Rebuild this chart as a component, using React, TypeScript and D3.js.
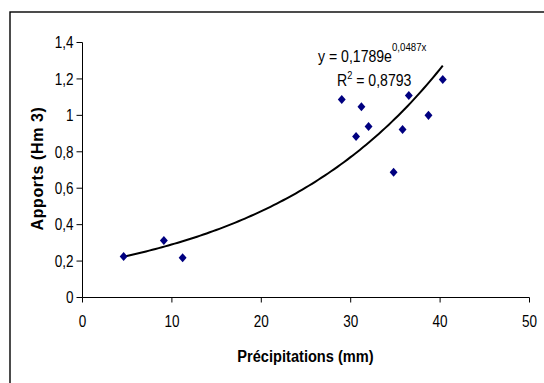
import React from "react";
import * as d3 from "d3";

const precip = [4.6, 9.1, 11.2, 29.0, 30.6, 31.2, 32.0, 34.8, 35.8, 36.5, 38.7, 40.3];
const apports = [0.225, 0.313, 0.218, 1.087, 0.884, 1.047, 0.939, 0.688, 0.922, 1.109, 1.0, 1.197];
const xTicks = [0, 10, 20, 30, 40, 50];
const yTicks = [0, 0.2, 0.4, 0.6, 0.8, 1, 1.2, 1.4];
const fitA = 0.1789;
const fitB = 0.0487;

const W = 544;
const H = 383;
const SANS = "'Liberation Sans', Arial, sans-serif";

function NText(props: {
  x: number;
  y: number;
  sx: number;
  anchor?: string;
  size: number;
  bold?: boolean;
  children: React.ReactNode;
}) {
  return (
    <text
      transform={`translate(${props.x},${props.y}) scale(${props.sx},1)`}
      textAnchor={props.anchor ?? "start"}
      fontFamily={SANS}
      fontSize={props.size}
      fontWeight={props.bold ? "bold" : "normal"}
      fill="#000"
    >
      {props.children}
    </text>
  );
}

export default function App() {
  const x = d3.scaleLinear().domain([0, 50]).range([82.5, 529.5]);
  const y = d3.scaleLinear().domain([0, 1.4]).range([297.5, 42.5]);
  const fmt = (v: number) => String(v).replace(".", ",");

  const xmin = d3.min(precip)!;
  const xmax = d3.max(precip)!;
  const curvePts = d3.range(0, 101).map((i) => {
    const xv = xmin + ((xmax - xmin) * i) / 100;
    return [xv, fitA * Math.exp(fitB * xv)] as [number, number];
  });
  const line = d3
    .line<[number, number]>()
    .x((d) => x(d[0]))
    .y((d) => y(d[1]));
  const diamond = d3.symbol().type(d3.symbolDiamond).size(24)();

  return (
    <svg
      width={W}
      height={H}
      style={{ position: "absolute", left: 0, top: 0, display: "block" }}
    >
      <rect x={0} y={0} width={W} height={H} fill="#fff" />
      <rect x={10} y={12} width={W + 20} height={H + 20} fill="none" stroke="#000" strokeWidth={1.4} />
      {/* axes */}
      <line x1={x(0)} x2={x(0)} y1={y(1.4)} y2={y(0)} stroke="#000" strokeWidth={1} />
      <line x1={x(0)} x2={x(50)} y1={y(0)} y2={y(0)} stroke="#000" strokeWidth={1} />
      {yTicks.map((t) => (
        <g key={"y" + t}>
          <line x1={x(0) - 6} x2={x(0)} y1={y(t)} y2={y(t)} stroke="#000" />
          <NText x={x(0) - 9} y={y(t) + 5.8} sx={0.82} anchor="end" size={16.5}>
            {fmt(t)}
          </NText>
        </g>
      ))}
      {xTicks.map((t) => (
        <g key={"x" + t}>
          <line x1={x(t)} x2={x(t)} y1={y(0)} y2={y(0) + 5} stroke="#000" />
          <NText x={x(t)} y={y(0) + 29} sx={0.82} anchor="middle" size={16.5}>
            {t}
          </NText>
        </g>
      ))}
      {/* axis titles */}
      <NText x={305.5} y={362} sx={0.86} anchor="middle" size={17} bold>
        Précipitations (mm)
      </NText>
      <text
        transform={`translate(43,168.5) rotate(-90)`}
        textAnchor="middle"
        fontFamily={SANS}
        fontWeight="bold"
        fontSize={16}
        letterSpacing={0.6}
        fill="#000"
      >
        Apports (Hm 3)
      </text>
      {/* trend line */}
      <path d={line(curvePts) ?? ""} fill="none" stroke="#000" strokeWidth={2} />
      {/* points */}
      {precip.map((p, i) => (
        <path
          key={i}
          d={diamond ?? ""}
          transform={`translate(${x(p)},${y(apports[i])}) scale(1.5,1)`}
          fill="#000080"
        />
      ))}
      {/* equation */}
      <NText x={318} y={62} sx={0.88} size={16}>
        y = 0,1789e
        <tspan dy={-11} fontSize={11}>
          0,0487x
        </tspan>
      </NText>
      <NText x={337} y={86} sx={0.88} size={16}>
        R<tspan dy={-7} fontSize={10.5}>2</tspan>
        <tspan dy={7}> = 0,8793</tspan>
      </NText>
    </svg>
  );
}
